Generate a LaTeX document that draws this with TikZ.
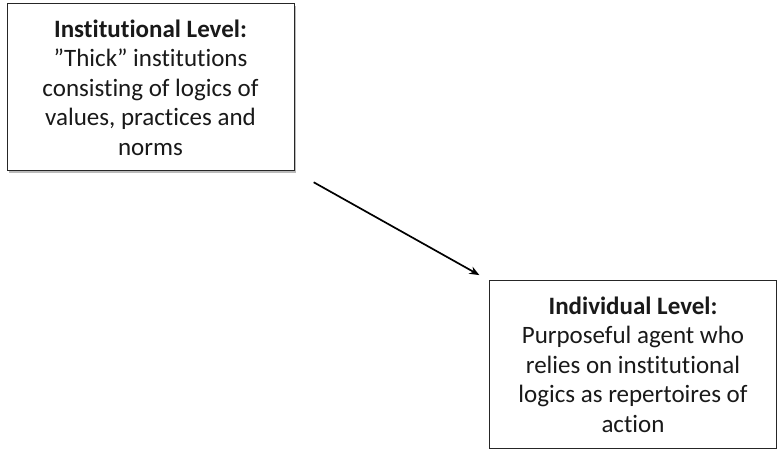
\documentclass[tikz,border=0pt]{standalone}
\usepackage{fontspec}
\setmainfont{Carlito}[RawFeature={-liga;-clig}]
\usetikzlibrary{shadows,arrows.meta}
\begin{document}
\begin{tikzpicture}[x=1pt,y=-1pt,
  levelbox/.style={draw=black!85,line width=1pt,fill=white,minimum width=287pt,minimum height=167pt,
    align=center,font=\fontsize{25pt}{29.5pt}\selectfont,inner sep=0pt,text=black!90},
  boxshadow/.style={drop shadow={shadow xshift=2pt,shadow yshift=-2pt,opacity=0.45,fill=black!60}},
  link/.style={line width=1.7pt,-{Stealth[length=10pt,width=8pt]}}]
\useasboundingbox (0,0) rectangle (777,449);
\node[levelbox,boxshadow] (inst) at (150.5,87.5) {\textbf{Institutional Level:}\\”Thick” institutions\\consisting of logics of\\values, practices and\\norms};
\node[levelbox] (indiv) at (633,364.5) {\textbf{Individual Level:}\\Purposeful agent who\\relies on institutional\\logics as repertoires of\\action};
\draw[link,shorten <=22pt,shorten >=11pt] (inst.south east) -- (indiv.north west);
\end{tikzpicture}
\end{document}
